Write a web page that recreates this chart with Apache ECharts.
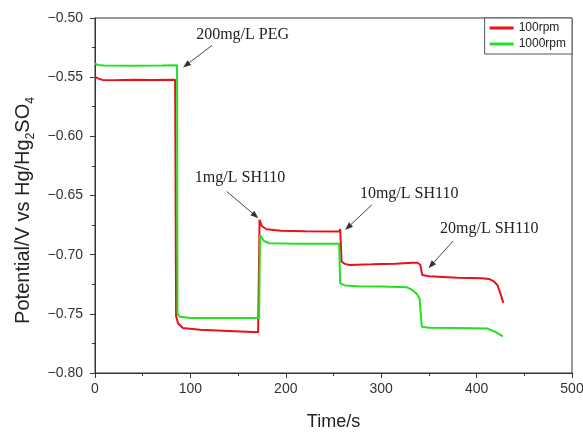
<!DOCTYPE html>
<html>
<head>
<meta charset="utf-8">
<script src="https://cdn.jsdelivr.net/npm/echarts@6/dist/echarts.min.js"></script>
<style>
  html, body { margin: 0; padding: 0; background: #fff; }
  #chart { width: 583px; height: 432px; }
</style>
</head>
<body>
<div id="chart"></div>
<script>
// 100rpm 曲线 [time, potential]
const red100 = [
  [0, -0.5497], [3, -0.5510], [8, -0.5523], [20, -0.5525], [40, -0.5522], [60, -0.5524], [84, -0.5522],
  [85, -0.7520], [87, -0.7580], [92, -0.7620], [110, -0.7635], [140, -0.7645], [171, -0.7655],
  [172.5, -0.6706], [175, -0.6760], [180, -0.6785], [195, -0.6798], [220, -0.6802], [256, -0.6805],
  [257, -0.6785], [258.5, -0.7060], [262, -0.7078], [267, -0.7087], [290, -0.7082], [315, -0.7076],
  [333, -0.7068], [338, -0.7068], [341, -0.7085], [343, -0.7172], [350, -0.7182], [380, -0.7195],
  [405, -0.7200], [413, -0.7205], [418, -0.7225], [422, -0.7260], [425, -0.7330], [428, -0.7407]
]
// 1000rpm 曲线
const green1000 = [
  [0, -0.5384], [3, -0.5398], [10, -0.5402], [40, -0.5403], [70, -0.5402], [86, -0.5400],
  [86.5, -0.7500], [89, -0.7525], [100, -0.7535], [140, -0.7536], [172, -0.7536],
  [173, -0.6835], [177, -0.6885], [183, -0.6903], [210, -0.6908], [256, -0.6908],
  [257, -0.7243], [262, -0.7260], [275, -0.7267], [300, -0.7270], [327, -0.7276], [333, -0.7300],
  [337.4, -0.7333], [340.2, -0.7370], [342.6, -0.7610], [350, -0.7618], [380, -0.7620], [411, -0.7624],
  [419.6, -0.7653], [427.5, -0.7690]
]
const xTicks = { min: 0, max: 500, interval: 100 }
const yTicks = { min: -0.80, max: -0.50, interval: 0.05 }
// 注释: 文本位置和箭头 (数据坐标)
const notes = [
  { text: '200mg/L PEG', at: [154.7, -0.5138], from: [122.7, -0.5231], to: [92.3, -0.5418] },
  { text: '1mg/L SH110', at: [152.1, -0.6353], from: [138.1, -0.6466], to: [171.3, -0.6692] },
  { text: '10mg/L SH110', at: [329.3, -0.6486], from: [290.2, -0.6579], to: [262.2, -0.6791] },
  { text: '20mg/L SH110', at: [413.3, -0.6782], from: [375.5, -0.6884], to: [349.6, -0.7115] }
]

const axisColor = '#333'
const sans = 'Liberation Sans, Arial, sans-serif'
const serif = 'Liberation Serif, Times New Roman, serif'

const chart = echarts.init(document.getElementById('chart'))

const option = {
  animation: false,
  backgroundColor: '#fff',
  grid: {
    left: 95, right: 11, top: 18, bottom: 59,
    outerBoundsMode: 'none',
    show: true, borderColor: axisColor, borderWidth: 1, backgroundColor: 'transparent'
  },
  legend: {
    orient: 'vertical',
    right: 11, top: 18,
    padding: [3, 6, 3, 5],
    itemGap: 2,
    itemWidth: 24, itemHeight: 3,
    icon: 'rect',
    borderColor: '#555', borderWidth: 1, backgroundColor: '#fff',
    textStyle: { fontFamily: sans, fontSize: 12, color: '#222', lineHeight: 14 },
    data: ['100rpm', '1000rpm']
  },
  xAxis: {
    type: 'value',
    ...xTicks,
    name: 'Time/s',
    nameLocation: 'middle',
    nameGap: 40,
    nameTextStyle: { fontFamily: sans, fontSize: 18, color: '#222' },
    axisLine: { show: true, lineStyle: { color: axisColor, width: 1 } },
    axisTick: { show: true, length: 5, lineStyle: { color: axisColor } },
    minorTick: { show: true, splitNumber: 2, length: 3, lineStyle: { color: axisColor } },
    axisLabel: { fontFamily: sans, fontSize: 14, color: '#333', margin: 9 },
    splitLine: { show: false }
  },
  yAxis: {
    type: 'value',
    ...yTicks,
    name: '{a|Potential/V vs Hg/Hg}{s|2}{a|SO}{s|4}',
    nameLocation: 'middle',
    nameGap: 56,
    nameRotate: 90,
    nameTextStyle: {
      color: '#222',
      padding: [0, 30, 0, 0],
      rich: {
        a: { fontFamily: sans, fontSize: 20, lineHeight: 26, color: '#222' },
        s: { fontFamily: sans, fontSize: 12, lineHeight: 12, verticalAlign: 'bottom', color: '#222' }
      }
    },
    axisLine: { show: true, lineStyle: { color: axisColor, width: 1 } },
    axisTick: { show: true, length: 5, lineStyle: { color: axisColor } },
    minorTick: { show: true, splitNumber: 2, length: 3, lineStyle: { color: axisColor } },
    axisLabel: {
      fontFamily: sans, fontSize: 14, color: '#333', margin: 12,
      formatter: v => v.toFixed(2).replace('-', '\u2212')
    },
    splitLine: { show: false }
  },
  series: [
    {
      name: '100rpm', type: 'line', data: red100,
      showSymbol: false, color: '#e8101a',
      lineStyle: { width: 2, color: '#e8101a' }
    },
    {
      name: '1000rpm', type: 'line', data: green1000,
      showSymbol: false, color: '#22e022',
      lineStyle: { width: 2, color: '#22e022' }
    }
  ]
}

chart.setOption(option)

// 箭头和文字
function buildNotes() {
  const g = []
  notes.forEach(n => {
    const pt = chart.convertToPixel({ gridIndex: 0 }, n.at)
    const p0 = chart.convertToPixel({ gridIndex: 0 }, n.from)
    const p1 = chart.convertToPixel({ gridIndex: 0 }, n.to)
    const dx = p1[0] - p0[0], dy = p1[1] - p0[1]
    const len = Math.sqrt(dx * dx + dy * dy)
    const ux = dx / len, uy = dy / len
    const head = 8, half = 3
    const bx = p1[0] - ux * head, by = p1[1] - uy * head
    g.push({
      type: 'text',
      x: pt[0], y: pt[1],
      style: {
        text: n.text, fontFamily: serif, fontSize: 16, fill: '#222',
        align: 'center', verticalAlign: 'middle'
      }
    })
    g.push({
      type: 'line',
      shape: { x1: p0[0], y1: p0[1], x2: bx, y2: by },
      style: { stroke: '#444', lineWidth: 1 }
    })
    g.push({
      type: 'polygon',
      shape: { points: [[p1[0], p1[1]], [bx - uy * half, by + ux * half], [bx + uy * half, by - ux * half]] },
      style: { fill: '#333' }
    })
  })
  chart.setOption({ graphic: g })
}
buildNotes()
</script>
</body>
</html>
